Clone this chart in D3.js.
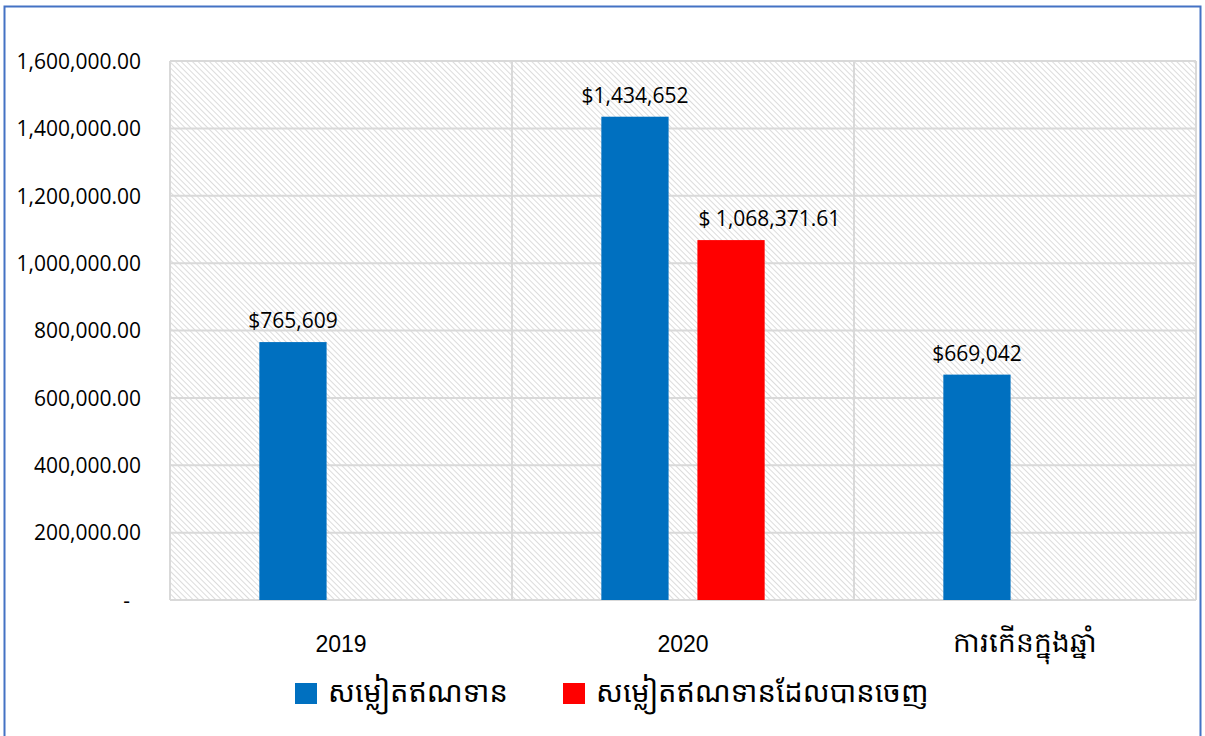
<!DOCTYPE html>
<html>
<head>
<meta charset="utf-8">
<script src="https://cdn.jsdelivr.net/npm/d3@7"></script>
<style>
  body { margin: 0; background: #fff; }
  text { font-family: "Open Sans", "Noto Sans", "Noto Sans Khmer", sans-serif; fill: #000; }
</style>
</head>
<body>
<svg id="chart" width="1205" height="736"></svg>
<script>
// chart data
var categories = ["2019", "2020", "ការកើនក្នុងឆ្នាំ"];
var seriesNames = ["សម្លៀតឥណទាន", "សម្លៀតឥណទានដែលបានចេញ"];
var loanValues = [765609, 1434652, 669042];
var issuedValues = [null, 1068371.61, null];
var loanLabels = ["$765,609", "$1,434,652", "$669,042"];
var issuedLabels = [null, "$ 1,068,371.61", null];
var yTicks = [0, 200000, 400000, 600000, 800000, 1000000, 1200000, 1400000, 1600000];

var colors = ["#0070C0", "#FF0000"];
var svg = d3.select("#chart");

// outer border
svg.append("rect")
    .attr("x", 4.5).attr("y", 6.5)
    .attr("width", 1196).attr("height", 740)
    .attr("fill", "none")
    .attr("stroke", "#4472C4")
    .attr("stroke-width", 2);

// hatch pattern for plot background
var pat = svg.append("defs").append("pattern")
    .attr("id", "hatch")
    .attr("patternUnits", "userSpaceOnUse")
    .attr("width", 4).attr("height", 4)
    .attr("patternTransform", "rotate(-45)");
pat.append("line")
    .attr("x1", 0).attr("y1", 0).attr("x2", 0).attr("y2", 4)
    .attr("stroke", "#d0d0d0")
    .attr("stroke-width", 1.5);

var plotLeft = 170, plotRight = 1196, plotTop = 61, plotBottom = 600;

var x = d3.scaleBand().domain(categories).range([plotLeft, plotRight]);
var y = d3.scaleLinear().domain([0, 1600000]).range([plotBottom, plotTop]);

svg.append("rect")
    .attr("x", plotLeft).attr("y", plotTop)
    .attr("width", plotRight - plotLeft).attr("height", plotBottom - plotTop)
    .attr("fill", "url(#hatch)");

// gridlines
svg.append("g")
    .selectAll("line")
    .data(yTicks)
    .enter()
    .append("line")
        .attr("x1", plotLeft).attr("x2", plotRight)
        .attr("y1", function(d) { return y(d); })
        .attr("y2", function(d) { return y(d); })
        .attr("stroke", "#d9d9d9")
        .attr("stroke-width", 2);

svg.append("g")
    .selectAll("line")
    .data(categories.map(function(c) { return x(c); }).concat([plotRight]))
    .enter()
    .append("line")
        .attr("x1", function(d) { return d; })
        .attr("x2", function(d) { return d; })
        .attr("y1", plotTop).attr("y2", plotBottom)
        .attr("stroke", "#d9d9d9")
        .attr("stroke-width", 2);

// y axis labels
var yAxis = svg.append("g")
    .attr("transform", "translate(" + (plotLeft - 29) + ",0)")
    .call(d3.axisLeft(y).tickValues(yTicks).tickSize(0).tickPadding(0)
        .tickFormat(function(d) { return d === 0 ? "-" : d3.format(",.2f")(d); }));
yAxis.select(".domain").remove();
yAxis.selectAll("text")
    .style("font-family", "'Open Sans', sans-serif")
    .style("font-size", "21px")
    .attr("dy", "0.35em")
    .attr("x", function(d) { return d === 0 ? -11 : 0; });

// x axis labels
var xAxis = svg.append("g")
    .attr("transform", "translate(0," + plotBottom + ")")
    .call(d3.axisBottom(x).tickSize(0).tickPadding(0));
xAxis.select(".domain").remove();
xAxis.selectAll("text")
    .attr("y", 52)
    .attr("dy", "0")
    .style("font-family", "'Liberation Sans', Arial, sans-serif")
    .style("font-size", function(d, i) { return i === 2 ? "28px" : "23px"; });

// bars
var inner = d3.scaleBand().domain([0, 1]).range([0, x.bandwidth()])
    .paddingInner(0.3).paddingOuter(0.93);

var series = [loanValues, issuedValues];
var seriesLabels = [loanLabels, issuedLabels];

series.forEach(function(vals, s) {
    var pts = categories.map(function(c, i) { return { c: c, v: vals[i], label: seriesLabels[s][i] }; })
        .filter(function(d) { return d.v !== null; });

    svg.append("g")
        .selectAll("rect")
        .data(pts)
        .enter()
        .append("rect")
            .attr("x", function(d) { return x(d.c) + inner(s); })
            .attr("y", function(d) { return y(d.v); })
            .attr("width", inner.bandwidth())
            .attr("height", function(d) { return y(0) - y(d.v); })
            .attr("fill", colors[s]);

    svg.append("g")
        .selectAll("text")
        .data(pts)
        .enter()
        .append("text")
            .attr("x", function(d) {
                return s === 0 ? x(d.c) + inner(s) + inner.bandwidth() / 2 : x(d.c) + inner(s) + 1;
            })
            .attr("y", function(d) { return y(d.v) - 14; })
            .style("text-anchor", s === 0 ? "middle" : "start")
            .style("font-size", "21px")
            .text(function(d) { return d.label; });
});

// legend
var legend = svg.append("g").attr("transform", "translate(295,683)");
var legendX = [0, 268];
seriesNames.forEach(function(name, i) {
    legend.append("rect")
        .attr("x", legendX[i]).attr("y", 0)
        .attr("width", 22).attr("height", 21)
        .attr("fill", colors[i]);
    legend.append("text")
        .attr("x", legendX[i] + 33).attr("y", 19)
        .style("font-size", "29px")
        .text(name);
});
</script>
</body>
</html>
